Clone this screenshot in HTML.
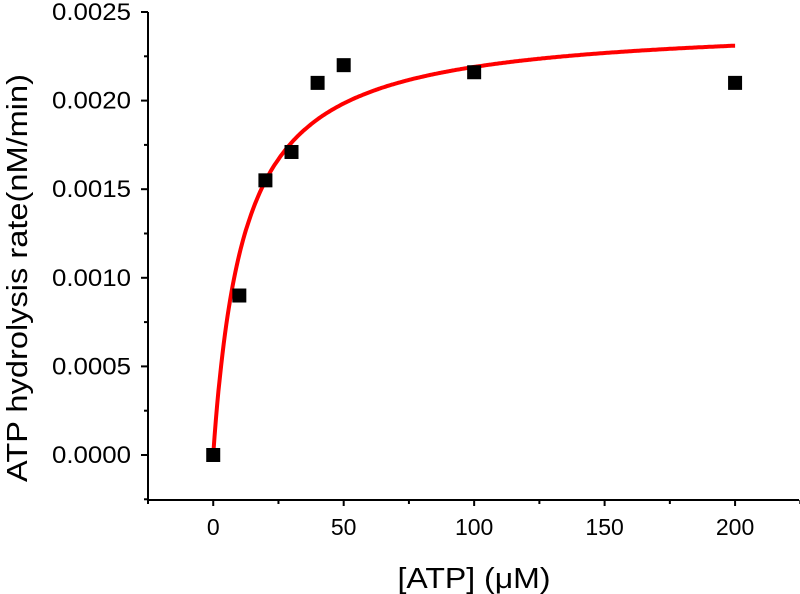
<!DOCTYPE html>
<html><head><meta charset="utf-8"><style>
body{margin:0;background:#fff;}
svg{display:block;font-family:"Liberation Sans",Arial,sans-serif;}
</style></head><body>
<svg id="chart" width="800" height="594" xmlns="http://www.w3.org/2000/svg">
<g id="axes"></g>
<path id="fit" fill="none" stroke="#ff0000" stroke-width="4"/>
<g id="pts"></g>
<text x="474" y="588" font-size="29" text-anchor="middle" textLength="153" lengthAdjust="spacingAndGlyphs">[ATP] (μM)</text>
<text transform="translate(27,278) rotate(-90)" font-size="29" text-anchor="middle" textLength="408" lengthAdjust="spacingAndGlyphs">ATP hydrolysis rate(nM/min)</text>
</svg>
<script>
const xValues=[0,10,20,30,40,50,100,200];
const yValues=[0,0.0009,0.00155,0.00171,0.0021,0.0022,0.00216,0.0021];
const xTicks=[0,50,100,150,200];
const yTicks=[0,0.0005,0.001,0.0015,0.002,0.0025];
const yTickLabels=["0.0000","0.0005","0.0010","0.0015","0.0020","0.0025"];
const fitVmax=[0.002444];
const fitKm=[11.6];
const X0=148,X1=799,Y0=500,Y1=12,XMIN=-25,XMAX=224.5,YMIN=-0.000254,YMAX=0.0025;
const sx=v=>X0+(v-XMIN)/(XMAX-XMIN)*(X1-X0);
const sy=v=>Y0-(v-YMIN)/(YMAX-YMIN)*(Y0-Y1);
const NS="http://www.w3.org/2000/svg";
const ax=document.getElementById('axes');
function mk(t,a,p){const e=document.createElementNS(NS,t);for(const k in a)e.setAttribute(k,a[k]);p.appendChild(e);return e;}
let l=mk('line',{x1:X0,y1:Y0,x2:X1,y2:Y0,stroke:'#000','stroke-width':2},ax);


l=mk('line',{x1:X0,y1:Y0+1,x2:X0,y2:Y1,stroke:'#000','stroke-width':2},ax);


for(let v=-25;v<=225;v+=25){const x=sx(v);const major=xTicks.includes(v);
 const t=mk('line',{x1:x,y1:Y0,x2:x,y2:Y0+(major?6:4),stroke:'#000','stroke-width':2},ax);
 
 }
xTicks.forEach(v=>{const t=mk('text',{x:sx(v),y:535,'font-size':23,'text-anchor':'middle'},ax);t.textContent=v;
 
 });
for(let i=0;i<yTicks.length;i++){const y=sy(yTicks[i]);
 const t=mk('line',{x1:X0-7,y1:y,x2:X0,y2:y,stroke:'#000','stroke-width':2},ax);
 
 
 const m=mk('line',{x1:X0-4,y1:sy(yTicks[i]-0.00025),x2:X0,y2:sy(yTicks[i]-0.00025),stroke:'#000','stroke-width':2},ax);
 
 
 const tx=mk('text',{x:X0-17,y:y+8,'font-size':24,'text-anchor':'end',textLength:79,lengthAdjust:'spacingAndGlyphs'},ax);tx.textContent=yTickLabels[i];
 
 }
let d='';for(let x=0;x<=200;x+=0.5){const y=fitVmax[0]*x/(fitKm[0]+x);d+=(x?'L':'M')+sx(x).toFixed(1)+','+sy(y).toFixed(1);}
document.getElementById('fit').setAttribute('d',d);
const pg=document.getElementById('pts');
xValues.forEach((v,i)=>{const r=mk('rect',{x:sx(v)-7,y:sy(yValues[i])-7,width:14,height:14,fill:'#000'},pg);
 
 });
</script>
</body></html>
